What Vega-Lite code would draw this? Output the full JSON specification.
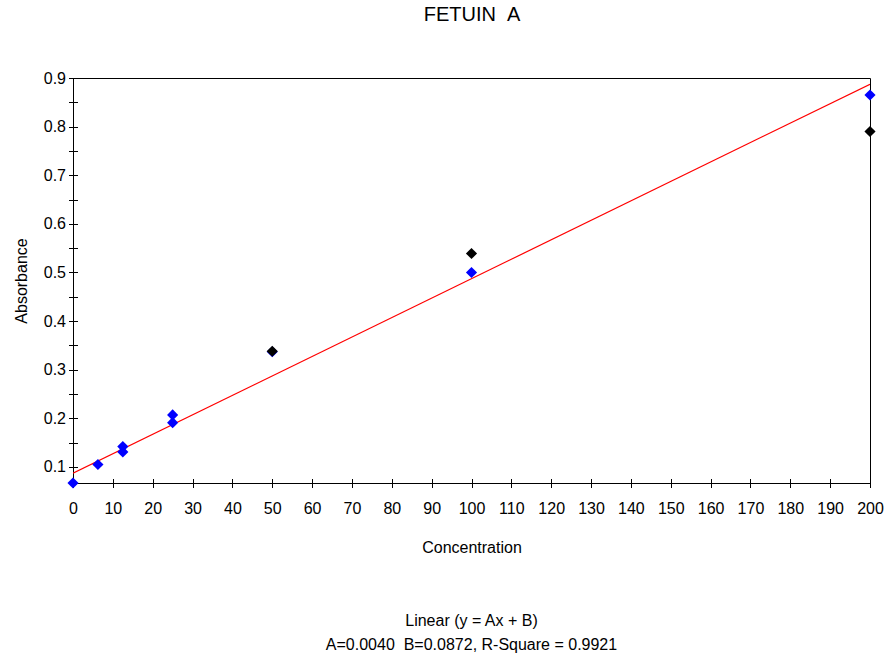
{
  "$schema": "https://vega.github.io/schema/vega-lite/v6.json",
  "autosize": "none",
  "width": 797,
  "height": 405,
  "padding": {"left": 73, "top": 78, "right": 16, "bottom": 178},
  "background": "white",
  "title": {"text": "Linear (y = Ax + B)", "subtitle": "A=0.0040\u00a0\u00a0B=0.0872, R-Square = 0.9921", "orient": "bottom", "anchor": "middle", "frame": "group", "fontSize": 16, "subtitleFontSize": 16, "font": "Liberation Sans", "subtitleFont": "Liberation Sans", "fontWeight": "normal", "color": "black", "subtitleColor": "black", "offset": 57, "subtitlePadding": 8},
  "config": {
    "view": {"stroke": "black", "strokeWidth": 1}
  },
  "resolve": {"axis": {"x": "independent"}},
  "datasets": {
    "points": [
      {"conc": 0, "abs": 0.067, "rep": "blue"},
      {"conc": 6.25, "abs": 0.105, "rep": "blue"},
      {"conc": 12.5, "abs": 0.142, "rep": "blue"},
      {"conc": 12.5, "abs": 0.131, "rep": "blue"},
      {"conc": 25, "abs": 0.207, "rep": "blue"},
      {"conc": 25, "abs": 0.191, "rep": "blue"},
      {"conc": 50, "abs": 0.337, "rep": "blue"},
      {"conc": 100, "abs": 0.5, "rep": "blue"},
      {"conc": 200, "abs": 0.865, "rep": "blue"},
      {"conc": 50, "abs": 0.338, "rep": "black"},
      {"conc": 100, "abs": 0.539, "rep": "black"},
      {"conc": 200, "abs": 0.79, "rep": "black"}
    ],
    "fit": [
      {"conc": 0, "abs": 0.0872},
      {"conc": 200, "abs": 0.8872}
    ]
  },
  "encoding": {
    "y": {"field": "abs", "type": "quantitative", "scale": {"domain": [0.067, 0.9], "nice": false, "zero": false},
      "axis": {"title": "Absorbance", "values": [0.1,0.15,0.2,0.25,0.3,0.35,0.4,0.45,0.5,0.55,0.6,0.65,0.7,0.75,0.8,0.85,0.9], "labelExpr": "abs(datum.value*10 - round(datum.value*10)) < 0.001 ? format(datum.value, '.1f') : ''", "labelOverlap": false, "labelPadding": 3, "titlePadding": 14, "labelFlush": false, "grid": false, "domain": false, "ticks": true, "tickWidth": 1, "tickColor": "black", "tickSize": 9, "offset": -4.5, "labelColor": "black", "titleColor": "black", "labelFont": "Liberation Sans", "titleFont": "Liberation Sans", "labelFontSize": 16, "titleFontSize": 16, "titleFontWeight": "normal"}}
  },
  "layer": [
    {
      "data": {"name": "fit"},
      "mark": {"type": "line", "color": "#ff0000", "strokeWidth": 1.2, "clip": true},
      "encoding": {
        "x": {"field": "conc", "type": "quantitative", "scale": {"domain": [0, 200], "nice": false, "zero": false},
          "axis": {"orient": "top", "title": "FETUIN\u00a0\u00a0A", "labels": false, "ticks": false, "domain": false, "grid": false, "offset": 0, "titlePadding": 54, "titleColor": "black", "titleFont": "Liberation Sans", "titleFontSize": 20, "titleFontWeight": "normal"}}
      }
    },
    {
      "data": {"name": "points"},
      "mark": {"type": "point", "shape": "diamond", "filled": true, "size": 125, "opacity": 1},
      "encoding": {
        "x": {"field": "conc", "type": "quantitative", "scale": {"domain": [0, 200], "nice": false, "zero": false},
          "axis": {"orient": "bottom", "title": "Concentration", "values": [0,10,20,30,40,50,60,70,80,90,100,110,120,130,140,150,160,170,180,190,200], "labelOverlap": false, "labelPadding": 13, "titlePadding": 23, "labelFlush": false, "grid": false, "domain": false, "ticks": true, "tickWidth": 1, "tickColor": "black", "tickSize": 9, "offset": -4.5, "labelColor": "black", "titleColor": "black", "labelFont": "Liberation Sans", "titleFont": "Liberation Sans", "labelFontSize": 16, "titleFontSize": 16, "titleFontWeight": "normal"}},
        "color": {"field": "rep", "type": "nominal", "scale": {"domain": ["blue", "black"], "range": ["#0000ff", "#000000"]}, "legend": null},
        "order": {"field": "rep", "sort": "descending"}
      }
    }
  ]
}
